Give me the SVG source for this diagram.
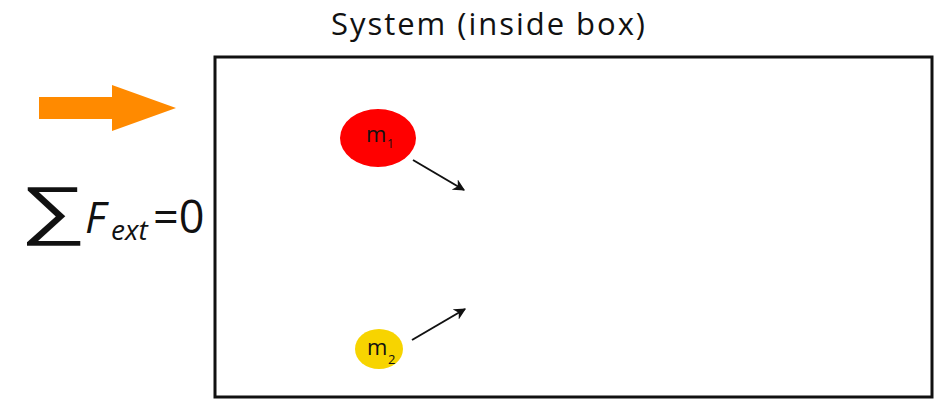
<svg xmlns="http://www.w3.org/2000/svg" width="944" height="400" viewBox="0 0 944 400">
<defs>
<style>
.t{font-family:"Open Sans","Liberation Sans",sans-serif;fill:#111}
.c{stroke:#111;stroke-width:2;fill:none}
</style>
<marker id="ah" viewBox="0 0 10 10" refX="9" refY="5" markerWidth="6" markerHeight="6" orient="auto" markerUnits="strokeWidth">
<path d="M0,0 L10,5 L0,10 L3,5 Z" fill="#111"/>
</marker>
</defs>
<rect width="944" height="400" fill="#fff"/>
<g id="title"><text class="t" x="331" y="35" font-size="31" textLength="314" lengthAdjust="spacing">System (inside box)</text></g>
<g id="system"><rect x="215" y="57" width="717" height="340" fill="none" stroke="#111" stroke-width="3"/></g>
<g id="force"><path d="M39,97 H112 V85 L176,108 L112,131 V119 H39 Z" fill="#ff8a00"/></g>
<g id="sum">
<text class="t" transform="translate(20,232) scale(1.5,1.05)" font-size="62" style="font-family:'Liberation Sans',sans-serif">∑</text>
<text class="t" x="85" y="233" font-size="43" font-style="italic">F</text>
<text class="t" x="111" y="240" font-size="28" font-style="italic">ext</text>
<text class="t" x="153" y="233" font-size="45">=0</text>
</g>
<g id="m1"><ellipse cx="378" cy="138" rx="38" ry="29" fill="#f00"/><text class="t" x="366" y="142" font-size="22">m</text><text class="t" x="387" y="148" font-size="12">1</text></g>
<g id="m2"><ellipse cx="379" cy="349" rx="24" ry="20" fill="#f7d400"/><text class="t" x="367" y="355" font-size="22">m</text><text class="t" x="388" y="364" font-size="13">2</text></g>
<g id="connectors">
<line class="c" x1="413" y1="160" x2="464" y2="190" marker-end="url(#ah)"/>
<line class="c" x1="412" y1="340" x2="465" y2="309" marker-end="url(#ah)"/>
</g>
</svg>
